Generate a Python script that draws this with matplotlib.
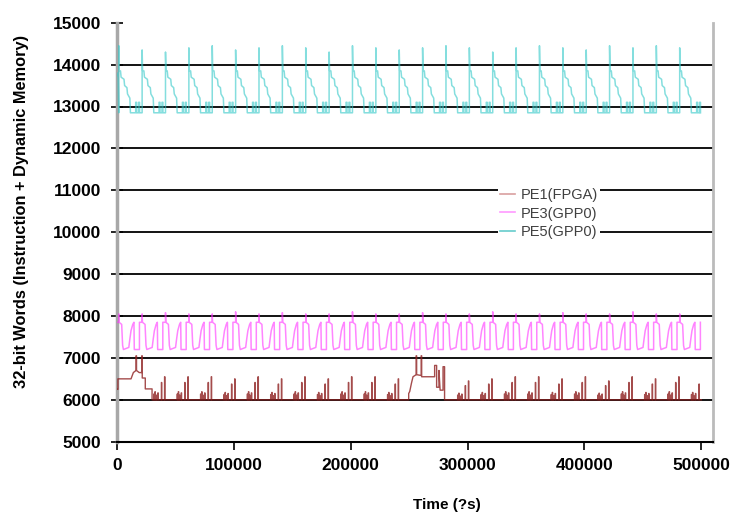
import numpy as np
import matplotlib
matplotlib.use("Agg")
import matplotlib.pyplot as plt
from matplotlib.lines import Line2D

# ---------------- data ----------------
# time (us) of the periodic peaks shared by the GPP traces
spike_times = [1500, 21500, 41500, 61500, 81500, 101500, 121500, 141500, 161500,
               181500, 201500, 221500, 241500, 261500, 281500, 301500, 321500,
               341500, 361500, 381500, 401500, 421500, 441500, 461500, 481500]

# PE5 (GPP0) : peak height of every cycle and the shape of one cycle
pe5_peaks = [14450, 14350, 14300, 14400, 14450, 14350, 14400, 14450, 14400, 14300,
             14450, 14400, 14350, 14400, 14450, 14400, 14300, 14400, 14450, 14400,
             14350, 14450, 14400, 14450, 14400]
pe5_shape_dt = [0, 0, 400, 1500, 2000, 4500, 5000, 7000, 7500, 9500, 10000,
                14500, 14500, 15300, 15300, 17000, 17000, 17800, 17800, 19600]
pe5_shape_v = [12850, 0, 13850, 13850, 13700, 13650, 13500, 13450, 13300, 13200,
               12850, 12850, 13100, 13100, 12850, 12850, 13100, 13100, 12850, 12850]
pe5_start_t = [0, 1000]
pe5_start_v = [13800, 13700]

# PE3 (GPP0)
pe3_peaks = [8050, 8050, 8080, 8050, 8050, 8100, 8050, 8080, 8050, 8050,
             8100, 8050, 8050, 8080, 8050, 8050, 8100, 8050, 8050, 8080,
             8050, 8050, 8100, 8050, 8050]
pe3_shape_dt = [0, 0, 300, 2500, 3300, 4000, 8600, 9500, 10500, 12000, 13000,
                13300, 17700, 17700]
pe3_shape_v = [7850, 0, 7850, 7800, 7300, 7200, 7250, 7450, 7650, 7800, 7850,
               7200, 7200, 7850]
pe3_start_t = [0]
pe3_start_v = [7850]

# PE1 (FPGA): two large bursts plus small spike clusters before each peak
pe1_burst1_t = [0, 800, 800, 12000, 14000, 16300, 16300, 16700, 16700, 19000,
                21200, 21200, 21600, 21600, 24200, 24200, 30000, 30000]
pe1_burst1_v = [6250, 6250, 6500, 6500, 6650, 6700, 7050, 7050, 6700, 6650,
                6650, 7050, 7050, 6520, 6520, 6260, 6260, 6000]
pe1_burst2_t = [249600, 249600, 250500, 252000, 253300, 256000, 256000, 256400,
                256400, 260300, 260300, 260700, 260700, 271800, 271800, 273500,
                273500, 275500, 275500, 276500, 279000, 279000, 280300, 280300]
pe1_burst2_v = [6000, 6150, 6200, 6400, 6550, 6600, 7050, 7050, 6600, 6580,
                7050, 7050, 6550, 6550, 6820, 6820, 6300, 6300, 6700, 6230,
                6230, 6790, 6790, 6000]
pe1_cluster_times = [41500, 61500, 81500, 101500, 121500, 141500, 161500, 181500,
                     201500, 221500, 241500, 301500, 321500, 341500, 361500, 381500,
                     401500, 421500, 441500, 461500, 481500, 501500]
pe1_cluster_tall = [6550, 6550, 6550, 6500, 6550, 6500, 6550, 6500, 6550, 6550,
                    6500, 6450, 6500, 6550, 6550, 6500, 6550, 6450, 6550, 6500,
                    6550, 6500]
pe1_spike_dt = [-10000, -9000, -8000, -6500, -3500, -800]
pe1_spike_rel = [0.25, 0.35, 0.2, 0.3, 0.75, 1.0]

t_end = 500000

x_ticks = [0, 100000, 200000, 300000, 400000, 500000]
y_ticks = [5000, 6000, 7000, 8000, 9000, 10000, 11000, 12000, 13000, 14000, 15000]
labels = ["PE1(FPGA)", "PE3(GPP0)", "PE5(GPP0)"]


def build_periodic(start_t, start_v, times, peaks, dts, vals, peak_idx=1):
    tt = list(start_t)
    vv = list(start_v)
    for t0, pk in zip(times, peaks):
        for i, (d, v) in enumerate(zip(dts, vals)):
            tt.append(t0 + d)
            vv.append(pk if i == peak_idx else v)
    tt = np.array(tt, float)
    vv = np.array(vv, float)
    keep = tt <= t_end
    return tt[keep], vv[keep]


def build_pe1():
    tt = list(pe1_burst1_t)
    vv = list(pe1_burst1_v)
    pending = [(pe1_burst2_t, pe1_burst2_v)]
    for tc, tall in zip(pe1_cluster_times, pe1_cluster_tall):
        if pending and tc > pending[0][0][0]:
            tt.extend(pending[0][0])
            vv.extend(pending[0][1])
            pending.pop(0)
        for d, r in zip(pe1_spike_dt, pe1_spike_rel):
            s = tc + d
            h = 6000 + r * (tall - 6000)
            tt.extend([s, s, s + 250, s + 250])
            vv.extend([6000, h, h, 6000])
    tt.append(t_end)
    vv.append(6000)
    tt = np.array(tt, float)
    vv = np.array(vv, float)
    keep = tt <= t_end
    return tt[keep], vv[keep]


t5, v5 = build_periodic(pe5_start_t, pe5_start_v, spike_times, pe5_peaks,
                        pe5_shape_dt, pe5_shape_v)
t3, v3 = build_periodic(pe3_start_t, pe3_start_v, spike_times, pe3_peaks,
                        pe3_shape_dt, pe3_shape_v)
t1, v1 = build_pe1()

# ---------------- figure ----------------
plt.rcParams["font.family"] = ["Liberation Sans", "DejaVu Sans"]
fig = plt.figure(figsize=(7.34, 5.15), dpi=100)
ax = fig.add_axes([117 / 734, 1 - 441.7 / 515, 596 / 734, (441.7 - 22.7) / 515])

c1 = "#8E1F1F"
c3 = "#FF33FF"
c5 = "#33C8C8"

ax.plot(t3, v3, color=c3, lw=1.1, alpha=0.6, zorder=3)
ax.plot(t5, v5, color=c5, lw=1.1, alpha=0.6, zorder=3)
ax.plot(t1, v1, color=c1, lw=1.0, alpha=0.8, zorder=3)

for yv in y_ticks[1:-1]:
    ax.axhline(yv, color="black", lw=1.3, zorder=1.5)

ax.set_xlim(0, 510000)
ax.set_ylim(5000, 15000)
ax.set_xticks(x_ticks)
ax.set_yticks(y_ticks)
ax.set_xticklabels([str(v) for v in x_ticks], fontsize=12.5, fontweight="bold")
ax.set_yticklabels([str(v) for v in y_ticks], fontsize=12.5, fontweight="bold")
ax.tick_params(axis="y", direction="inout", length=9, width=1.2, pad=7)
ax.tick_params(axis="x", direction="out", length=6, width=1.2, pad=6)

ax.spines["top"].set_visible(False)
ax.spines["right"].set_color("#BBBBBB")
ax.spines["right"].set_linewidth(2)
ax.spines["left"].set_color("#A8A8A8")
ax.spines["left"].set_linewidth(2.5)
ax.spines["bottom"].set_color("black")
ax.spines["bottom"].set_linewidth(1.5)

fig.text(22 / 734, 1 - 211 / 515, "32-bit Words (Instruction + Dynamic Memory)",
         rotation=90, ha="center", va="center", fontsize=11.8, fontweight="bold")
fig.text(447 / 734, 1 - 505 / 515, "Time (?s)", ha="center", va="center",
         fontsize=11, fontweight="bold")

handles = [Line2D([], [], color="#D9A0A0", lw=1.2),
           Line2D([], [], color="#FF99FF", lw=1.2),
           Line2D([], [], color="#66CCCC", lw=1.2)]
leg = ax.legend(handles, labels, loc="upper left",
                bbox_to_anchor=((498 - 117) / 596, (441.7 - 186) / 419),
                fontsize=10.5, frameon=True, facecolor="white", edgecolor="none",
                framealpha=1, handlelength=1.0, handletextpad=0.4,
                labelspacing=0.3, borderpad=0.15, borderaxespad=0, fancybox=False)
for txt in leg.get_texts():
    txt.set_color("#404040")
leg.set_zorder(5)

fig.savefig("out.png", dpi=100)
